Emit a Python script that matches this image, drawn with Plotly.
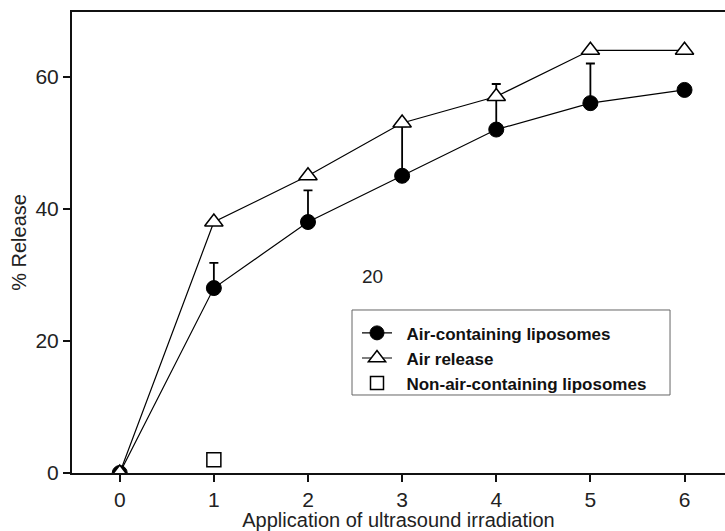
import plotly.graph_objects as go

x_vals = [0, 1, 2, 3, 4, 5, 6]
air_lipo = [0, 28, 38, 45, 52, 56, 58]
air_lipo_err = [0, 3.8, 4.8, 7.5, 6.9, 6, 0]
air_release = [0, 38, 45, 53, 57, 64, 64]
non_air_x = [1]
non_air = [2]
x_ticks = [0, 1, 2, 3, 4, 5, 6]
y_ticks = [0, 20, 40, 60]
names = ["Air-containing liposomes", "Air release", "Non-air-containing liposomes"]

FONT = "Liberation Sans, Arial, Helvetica, sans-serif"
circle_marker = dict(symbol="circle", size=15, color="black", line=dict(color="black", width=1))
tri_marker = dict(symbol="triangle-up", size=16, color="white", line=dict(color="black", width=1.5))
sq_marker = dict(symbol="square", size=14, color="white", line=dict(color="black", width=1.5))
thin = dict(color="black", width=1.2)

fig = go.Figure()
# data traces (hidden from legend)
fig.add_trace(go.Scatter(
    x=x_vals, y=air_lipo, mode="lines+markers", line=thin, marker=circle_marker,
    error_y=dict(type="data", array=air_lipo_err, arrayminus=[0] * len(x_vals), symmetric=False,
                 color="black", thickness=1.8, width=4.5),
    showlegend=False,
))
fig.add_trace(go.Scatter(
    x=x_vals, y=air_release, mode="lines+markers", line=thin, marker=tri_marker,
    showlegend=False,
))
fig.add_trace(go.Scatter(
    x=non_air_x, y=non_air, mode="markers", marker=sq_marker, showlegend=False,
))
# legend entries
pad = "\u00a0\u00a0"
fig.add_trace(go.Scatter(x=[None], y=[None], mode="lines+markers", line=thin,
                         marker=dict(circle_marker, size=14), name=pad + names[0]))
fig.add_trace(go.Scatter(x=[None], y=[None], mode="lines+markers", line=thin,
                         marker=dict(tri_marker, size=15), name=pad + names[1]))
fig.add_trace(go.Scatter(x=[None], y=[None], mode="markers",
                         marker=dict(sq_marker, size=13), name=pad + names[2]))

fig.add_annotation(x=2.69, y=29.8, text="20", showarrow=False,
                   font=dict(family=FONT, size=19, color="#222"))

# legend frame
fig.add_shape(type="rect", xref="paper", yref="paper", x0=0.4288, x1=0.9158, y0=0.1692, y1=0.3536,
              line=dict(color="#666", width=1), fillcolor="rgba(0,0,0,0)")

fig.update_layout(
    width=725, height=531,
    margin=dict(l=72, r=0, t=12, b=58),
    plot_bgcolor="white", paper_bgcolor="white",
    font=dict(family=FONT, color="#222"),
    showlegend=True,
    legend=dict(x=(357 - 72) / 653, y=0.342, xanchor="left", yanchor="top",
                borderwidth=0, bgcolor="rgba(0,0,0,0)",
                font=dict(size=17, family=FONT, color="#111", weight="bold"),
                itemsizing="trace", tracegroupgap=0),
    xaxis=dict(range=[-0.507, 6.43], tickvals=x_ticks, ticks="outside", ticklen=7, tickwidth=1.5,
               tickcolor="#111", showline=True, linecolor="#111", linewidth=2, mirror=True,
               showgrid=False, zeroline=False, tickfont=dict(size=21),
               title=dict(text="Application of ultrasound irradiation", font=dict(size=20), standoff=1)),
    yaxis=dict(range=[0, 69.8], tickvals=y_ticks, ticks="outside", ticklen=7, tickwidth=1.5,
               tickcolor="#111", showline=True, linecolor="#111", linewidth=2,
               showgrid=False, zeroline=False, tickfont=dict(size=21),
               title=dict(text="% Release", font=dict(size=20), standoff=3)),
)

fig.write_html("out.html")
